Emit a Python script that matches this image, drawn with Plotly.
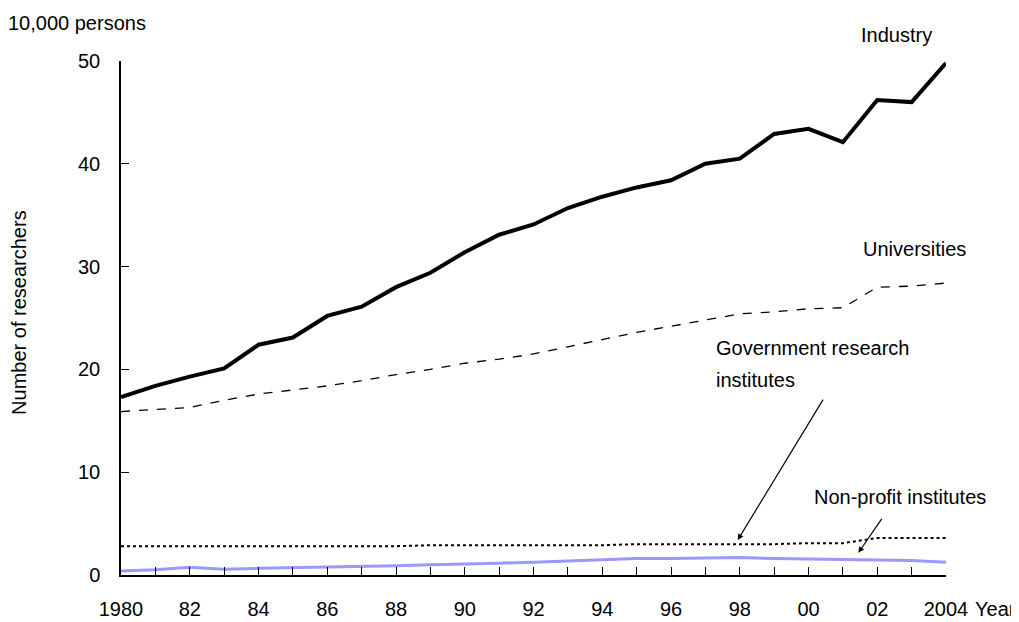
import plotly.graph_objects as go

years = list(range(1980, 2005))
industry = [17.3, 18.4, 19.3, 20.1, 22.4, 23.1, 25.2, 26.1, 28.0, 29.4, 31.4, 33.1, 34.1,
            35.7, 36.8, 37.7, 38.4, 40.0, 40.5, 42.9, 43.4, 42.1, 46.2, 46.0, 49.8]
universities = [15.9, 16.1, 16.3, 17.0, 17.6, 18.0, 18.4, 18.9, 19.5, 20.0, 20.6, 21.0, 21.5,
                22.2, 22.9, 23.6, 24.2, 24.8, 25.4, 25.6, 25.9, 26.0, 28.0, 28.1, 28.4]
government = [2.8, 2.8, 2.8, 2.8, 2.8, 2.8, 2.8, 2.8, 2.8, 2.9, 2.9, 2.9, 2.9,
              2.9, 2.9, 3.0, 3.0, 3.0, 3.0, 3.0, 3.1, 3.1, 3.6, 3.6, 3.6]
nonprofit = [0.4, 0.5, 0.75, 0.55, 0.65, 0.7, 0.75, 0.8, 0.9, 1.0, 1.05, 1.15, 1.25,
             1.35, 1.45, 1.6, 1.6, 1.65, 1.7, 1.6, 1.55, 1.55, 1.45, 1.4, 1.25]
xtick_vals = list(range(1980, 2005, 2))
xtick_text = ["1980", "82", "84", "86", "88", "90", "92", "94", "96", "98", "00", "02", "2004"]
ytick_vals = [0, 10, 20, 30, 40, 50]

FONT = "Liberation Sans Narrow, Arial Narrow, Liberation Sans, Arial, sans-serif"
FS = 20

fig = go.Figure()
fig.add_trace(go.Scatter(x=years, y=nonprofit, mode="lines",
                         line=dict(color="#9999FF", width=3), name="Non-profit institutes"))
fig.add_trace(go.Scatter(x=years, y=government, mode="lines",
                         line=dict(color="black", width=2, dash="dot"), name="Government research institutes"))
fig.add_trace(go.Scatter(x=years, y=universities, mode="lines",
                         line=dict(color="black", width=1.3, dash="dash"), name="Universities"))
fig.add_trace(go.Scatter(x=years, y=industry, mode="lines",
                         line=dict(color="black", width=4), name="Industry"))

fig.update_layout(
    width=1011, height=614,
    margin=dict(l=113, r=73, t=53, b=47, autoexpand=False),
    paper_bgcolor="white", plot_bgcolor="white",
    showlegend=False,
    font=dict(family=FONT, size=FS, color="black"),
    xaxis=dict(range=[1980, 2004], tickvals=xtick_vals, ticktext=xtick_text,
               ticks="inside", ticklen=8, tickcolor="black", tickwidth=1,
               minor=dict(dtick=1, tick0=1980, ticks="inside", ticklen=8, tickcolor="black"),
               showline=True, linecolor="black", linewidth=1.5, showgrid=False, zeroline=False,
               tickfont=dict(family=FONT, size=FS), ticklabelstandoff=15, automargin=False),
    yaxis=dict(range=[0, 50], tickvals=ytick_vals, ticks="inside", ticklen=8,
               tickcolor="black", showline=True, linecolor="black", linewidth=1.5,
               showgrid=False, zeroline=False, tickfont=dict(family=FONT, size=FS),
               ticklabelstandoff=15, automargin=False),
)

fig.add_annotation(text="Number of researchers", xref="paper", yref="paper", x=-0.1236, y=0.51,
                   xanchor="center", yanchor="middle", textangle=-90, showarrow=False,
                   font=dict(size=FS))
fig.add_annotation(text="10,000 persons", xref="paper", yref="paper", x=-0.139, y=1.074,
                   xanchor="left", yanchor="middle", showarrow=False, font=dict(size=FS))
fig.add_annotation(text="Year", xref="paper", yref="paper", x=1.033, y=-0.066,
                   xanchor="left", yanchor="middle", showarrow=False, font=dict(size=FS))
fig.add_annotation(text="Industry", xref="x", yref="paper", x=2002.57, y=1.051,
                   xanchor="center", yanchor="middle", showarrow=False, font=dict(size=FS))
fig.add_annotation(text="Universities", x=2003.08, y=31.7, xref="x", yref="y",
                   xanchor="center", yanchor="middle", showarrow=False, font=dict(size=FS))
fig.add_annotation(text="Government research", x=1997.26, y=22.08, xref="x", yref="y",
                   xanchor="left", yanchor="middle", showarrow=False, font=dict(size=FS))
fig.add_annotation(text="institutes", x=1997.26, y=18.97, xref="x", yref="y",
                   xanchor="left", yanchor="middle", showarrow=False, font=dict(size=FS))
fig.add_annotation(text="Non-profit institutes", x=2000.1, y=7.59, xref="x", yref="y",
                   xanchor="left", yanchor="middle", showarrow=False, font=dict(size=FS))
fig.add_annotation(x=1997.94, y=3.4, ax=2000.45, ay=17.2, xref="x", yref="y", axref="x", ayref="y",
                   text="", showarrow=True, arrowhead=2, arrowsize=1, arrowwidth=1.2, arrowcolor="black")
fig.add_annotation(x=2001.45, y=2.16, ax=2002.16, ay=5.6, xref="x", yref="y", axref="x", ayref="y",
                   text="", showarrow=True, arrowhead=2, arrowsize=1, arrowwidth=1.2, arrowcolor="black")

fig.write_html("out.html")
